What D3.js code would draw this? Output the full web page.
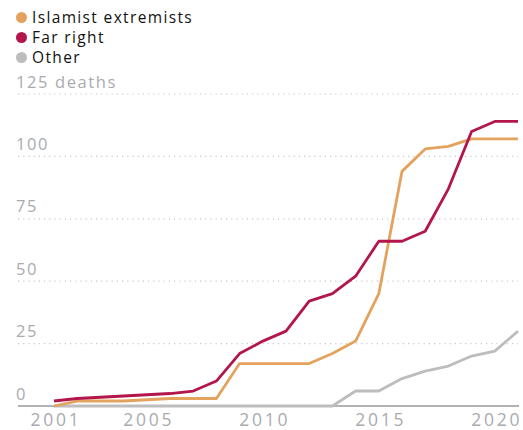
<!DOCTYPE html>
<html><head><meta charset="utf-8">
<script src="https://cdn.jsdelivr.net/npm/d3@7"></script>
<style>
html,body{margin:0;padding:0;background:#fff;}
svg{display:block;font-family:"Open Sans",sans-serif;}
</style></head>
<body><svg id="c" width="523" height="430"></svg>
<script>
const years = [2001,2002,2003,2004,2005,2006,2007,2008,2009,2010,2011,2012,2013,2014,2015,2016,2017,2018,2019,2020,2021];
const islamist = [0,2,2,2,2.5,3,3,3,17,17,17,17,21,26,45,94,103,104,107,107,107];
const farRight = [2,3,3.5,4,4.5,5,6,10,21,26,30,42,45,52,66,66,70,87,110,114,114];
const other = [0,0,0,0,0,0,0,0,0,0,0,0,0,6,6,11,14,16,20,22,30];
const seriesNames = ["Islamist extremists","Far right","Other"];
const seriesColors = ["#e3a35e","#b3164a","#bdbdbd"];
const yTicks = [0,25,50,75,100,125];
const yTickLabels = ["0","25","50","75","100","125 deaths"];
const xTicks = [2001,2005,2010,2015,2020];

const svg = d3.select("#c");
const x = d3.scaleLinear().domain([2001,2021]).range([54,518]);
const y = d3.scaleLinear().domain([0,125]).range([406,94]);

// gridlines
svg.append("g").selectAll("line").data(yTicks.filter(d=>d>0)).join("line")
  .attr("x1",18).attr("x2",518).attr("y1",d=>y(d)).attr("y2",d=>y(d))
  .attr("stroke","#c8c8c8").attr("stroke-width",1.2).attr("stroke-dasharray","1.2,4");

// y labels
svg.append("g").selectAll("text").data(yTicks).join("text")
  .attr("x",16).attr("y",d=>y(d)-6.5)
  .attr("fill","#a9abb0").attr("font-size",16.5).attr("letter-spacing",1.6)
  .text((d,i)=>yTickLabels[i]);

// lines
const line = d3.line().x((d,i)=>x(years[i])).y(d=>y(d));
const seriesData = [other, islamist, farRight];
const seriesCol = [seriesColors[2], seriesColors[0], seriesColors[1]];
// baseline
svg.append("line").attr("x1",18).attr("x2",519).attr("y1",y(0)).attr("y2",y(0))
  .attr("stroke","#9a9a9a").attr("stroke-width",1.5);
svg.append("g").selectAll("path").data(seriesData).join("path")
  .attr("d",d=>line(d)).attr("fill","none")
  .attr("stroke",(d,i)=>seriesCol[i]).attr("stroke-width",2.8)
  .attr("stroke-linejoin","round");

// x axis
const xa = svg.append("g").attr("transform",`translate(0,${y(0)})`)
  .call(d3.axisBottom(x).tickValues(xTicks).tickFormat(d3.format("d")).tickSize(0).tickPadding(0));
xa.select(".domain").remove();
xa.selectAll("text").attr("y",20).attr("dy",0).attr("dx",1.5).attr("font-size",17.5)
  .attr("letter-spacing",2.8)
  .attr("font-family","'Open Sans',sans-serif").attr("fill","#a9abb0");

// legend
const lg = svg.append("g").selectAll("g").data(seriesNames).join("g")
  .attr("transform",(d,i)=>`translate(0,${[17.5,37.5,57.5][i]})`);
lg.append("circle").attr("cx",21.5).attr("cy",0).attr("r",5.5).attr("fill",(d,i)=>seriesColors[i]);
lg.append("text").attr("x",32).attr("y",5.5).attr("font-size",15.5).attr("letter-spacing",1.35)
  .attr("fill","#121212").text(d=>d);
</script></body></html>
